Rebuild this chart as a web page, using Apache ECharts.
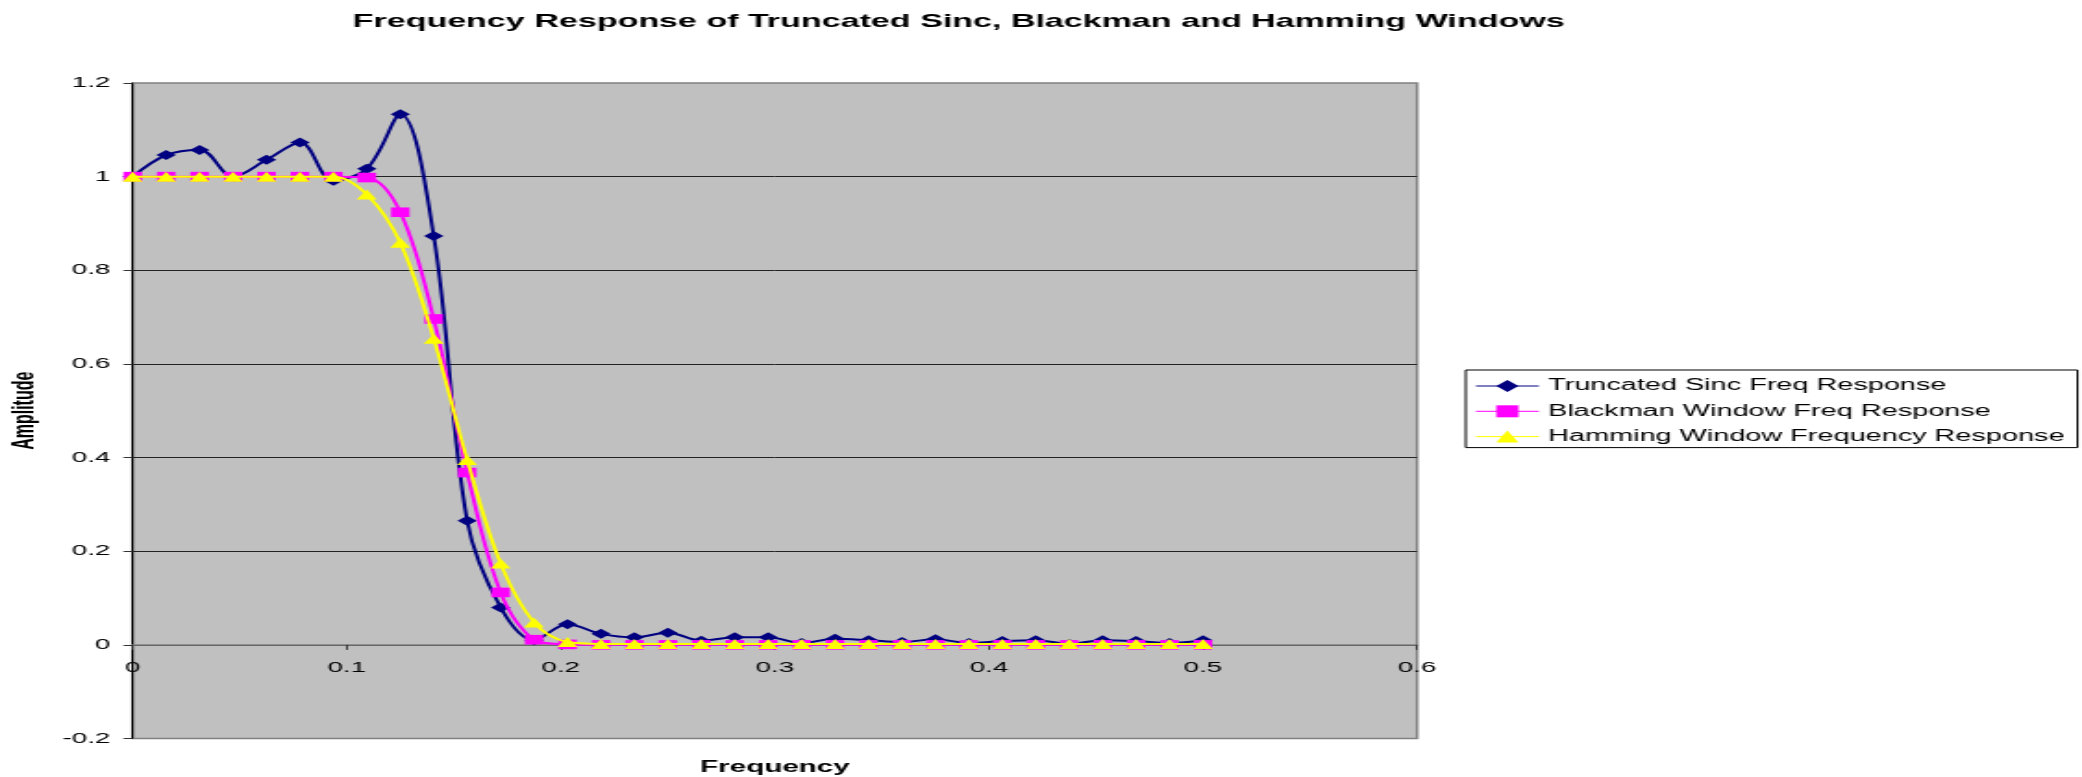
<!DOCTYPE html>
<html>
<head>
<meta charset="utf-8">
<script src="https://cdn.jsdelivr.net/npm/echarts@6/dist/echarts.min.js"></script>
<style>
html,body{margin:0;padding:0;background:#fff;overflow:hidden;}
#wrap{width:2082px;height:777px;overflow:hidden;}
#c{width:1125px;height:777px;transform:scaleX(1.850667);transform-origin:0 0;}
</style>
</head>
<body>
<div id="wrap"><div id="c"></div></div>
<script>
const frequency = [0, 0.015625, 0.03125, 0.046875, 0.0625, 0.078125, 0.09375, 0.109375, 0.125, 0.140625, 0.15625, 0.171875, 0.1875, 0.203125, 0.21875, 0.234375, 0.25, 0.265625, 0.28125, 0.296875, 0.3125, 0.328125, 0.34375, 0.359375, 0.375, 0.390625, 0.40625, 0.421875, 0.4375, 0.453125, 0.46875, 0.484375, 0.5];
const sincResp = [1.0, 1.046, 1.057, 1.0, 1.036, 1.073, 0.991, 1.017, 1.133, 0.873, 0.265, 0.080, 0.010, 0.044, 0.0235, 0.016, 0.026, 0.009, 0.016, 0.016, 0.004, 0.013, 0.010, 0.006, 0.012, 0.004, 0.008, 0.010, 0.002, 0.010, 0.008, 0.004, 0.010];
const blackmanResp = [1, 1, 1, 1, 1, 1, 1, 0.998, 0.924, 0.696, 0.368, 0.112, 0.011, 0.001, 0, 0, 0, 0, 0, 0, 0, 0, 0, 0, 0, 0, 0, 0, 0, 0, 0, 0, 0];
const hammingResp = [1, 1, 1, 1, 1, 1, 1, 0.962, 0.859, 0.654, 0.395, 0.174, 0.048, 0.006, 0.002, 0.002, 0.002, 0.002, 0.002, 0.002, 0.002, 0.002, 0.002, 0.002, 0.002, 0.002, 0.002, 0.002, 0.002, 0.002, 0.002, 0.002, 0.002];
const seriesNames = ['Truncated Sinc Freq Response', 'Blackman Window Freq Response', 'Hamming Window Frequency Response'];
const titleText = 'Frequency Response of Truncated Sinc, Blackman and Hamming Windows';
const xName = 'Frequency';
const yName = 'Amplitude';

const FONT = '"Liberation Sans", Arial, sans-serif';
const pairs = (ys) => frequency.map((x, i) => [x, ys[i]]);

const chart = echarts.init(document.getElementById('c'), null, {renderer: 'canvas'});
chart.setOption({
  backgroundColor: '#ffffff',
  animation: false,
  title: {
    text: titleText,
    left: 518, top: 12, padding: 0,
    textAlign: 'center',
    textStyle: {fontFamily: FONT, fontSize: 18.4, fontWeight: 'bold', color: '#000', lineHeight: 19}
  },
  legend: {
    orient: 'vertical',
    left: 792, top: 370,
    padding: [8, 7, 3, 5],
    itemGap: 9.3,
    itemWidth: 34, itemHeight: 15,
    backgroundColor: '#fff',
    borderColor: '#000', borderWidth: 1,
    lineStyle: {width: 1},
    textStyle: {fontFamily: FONT, fontSize: 15.6, color: '#000', lineHeight: 16},
    data: seriesNames
  },
  grid: {
    left: 71.7, right: 359.3, top: 83, bottom: 38.5,
    show: true, backgroundColor: '#C0C0C0', borderColor: '#808080', borderWidth: 1.5,
    containLabel: false, outerBoundsMode: 'none'
  },
  xAxis: [
    {
      type: 'value', min: 0, max: 0.6, interval: 0.1, position: 'bottom',
      name: xName, nameLocation: 'middle', nameGap: 21, nameMoveOverlap: false,
      nameTextStyle: {fontFamily: FONT, fontSize: 16, fontWeight: 'bold', color: '#000'},
      axisLine: {show: false, onZero: false},
      axisTick: {show: false},
      axisLabel: {fontFamily: FONT, fontSize: 15, color: '#000', margin: -78, hideOverlap: false},
      splitLine: {show: false}
    },
    {
      type: 'value', min: 0, max: 0.6, interval: 0.1, position: 'bottom',
      axisLine: {show: true, onZero: true, lineStyle: {color: '#808080', width: 1.5}},
      axisTick: {show: true, inside: false, length: 5, lineStyle: {color: '#333', width: 1}},
      axisLabel: {show: false},
      splitLine: {show: false}
    }
  ],
  yAxis: {
    type: 'value', min: -0.2, max: 1.2, interval: 0.2,
    name: yName, nameLocation: 'middle', nameGap: 50, nameRotate: 90, nameMoveOverlap: false,
    nameTextStyle: {fontFamily: FONT, fontSize: 16, fontWeight: 'bold', color: '#000'},
    axisLine: {show: true, onZero: false, lineStyle: {color: '#000', width: 1.1}},
    axisTick: {show: true, inside: false, length: 5, lineStyle: {color: '#333', width: 1}},
    axisLabel: {fontFamily: FONT, fontSize: 15, color: '#000', margin: 12},
    splitLine: {show: true, showMinLine: false, showMaxLine: false, lineStyle: {color: '#222', width: 1}}
  },
  series: [
    {
      name: seriesNames[0], type: 'line', data: pairs(sincResp), smooth: 0.35,
      symbol: 'diamond', symbolSize: [10.5, 10], showAllSymbol: true,
      lineStyle: {color: '#000080', width: 2}, itemStyle: {color: '#000080'}, z: 2
    },
    {
      name: seriesNames[1], type: 'line', data: pairs(blackmanResp), smooth: 0.35,
      symbol: 'rect', symbolSize: [10, 9.6], showAllSymbol: true,
      lineStyle: {color: '#FF00FF', width: 2}, itemStyle: {color: '#FF00FF'}, z: 3
    },
    {
      name: seriesNames[2], type: 'line', data: pairs(hammingResp), smooth: 0.35,
      symbol: 'triangle', symbolSize: [10.8, 10], showAllSymbol: true,
      lineStyle: {color: '#FFFF00', width: 2}, itemStyle: {color: '#FFFF00'}, z: 4
    }
  ]
});
</script>
</body>
</html>
